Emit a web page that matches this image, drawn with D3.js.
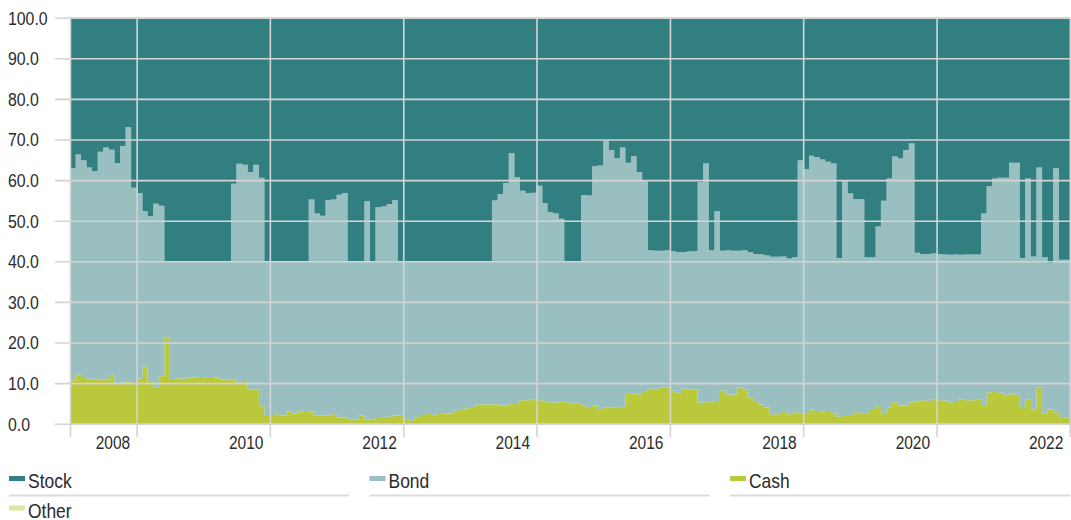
<!DOCTYPE html>
<html>
<head>
<meta charset="utf-8">
<script src="https://cdn.jsdelivr.net/npm/d3@7"></script>
<style>
    body { margin: 0; background: #fff; }
    svg { display: block; font-family: "Liberation Sans", Arial, sans-serif; }
</style>
</head>
<body>
<svg id="chart" width="1071" height="520"></svg>
<script>
// monthly allocation, Jan 2008 .. Dec 2022 (percent)
const stock = [
    37.0, 33.7, 35.1, 36.9, 37.8, 33.0, 32.0, 32.5, 35.8, 31.6, 27.0, 41.9,
    43.2, 47.6, 48.9, 45.8, 46.3, 60.0, 60.0, 60.0, 60.0, 60.0, 60.0, 60.0,
    60.0, 60.0, 60.0, 60.0, 60.0, 40.9, 36.0, 36.2, 38.0, 36.2, 39.4, 60.0,
    60.0, 60.0, 60.0, 60.0, 60.0, 60.0, 60.0, 44.8, 48.2, 48.8, 44.9, 44.8,
    43.6, 43.2, 60.0, 60.0, 60.0, 45.2, 60.0, 46.7, 46.5, 45.9, 44.9, 60.0,
    60.0, 60.0, 60.0, 60.0, 60.0, 60.0, 60.0, 60.0, 60.0, 60.0, 60.0, 60.0,
    60.0, 60.0, 60.0, 60.0, 45.0, 43.5, 40.7, 33.4, 39.3, 42.6, 43.2, 43.1,
    41.4, 45.7, 47.9, 48.2, 49.5, 60.0, 60.0, 60.0, 43.7, 43.8, 36.6, 36.4,
    30.3, 32.6, 34.6, 32.0, 35.7, 34.1, 38.0, 40.3, 57.3, 57.4, 57.4, 57.3,
    57.5, 57.8, 57.7, 57.6, 57.5, 40.5, 35.9, 57.3, 47.7, 57.4, 57.3, 57.4,
    57.4, 57.3, 57.8, 58.2, 58.3, 58.6, 58.9, 58.9, 58.8, 59.3, 59.0, 35.1,
    37.3, 34.0, 34.3, 34.9, 35.5, 35.9, 59.2, 40.3, 43.3, 44.7, 44.7, 59.0,
    59.0, 51.4, 45.1, 39.6, 34.2, 34.7, 32.6, 31.0, 57.9, 58.2, 58.2, 58.1,
    58.2, 58.3, 58.4, 58.3, 58.4, 58.3, 58.3, 58.3, 48.2, 41.5, 39.6, 39.4,
    39.4, 35.7, 35.7, 59.2, 39.6, 58.8, 36.9, 59.0, 60.4, 37.1, 59.6, 59.6
];
const bond = [
    52.3, 54.2, 53.4, 52.3, 51.1, 56.2, 57.2, 55.7, 54.2, 58.3, 62.6, 48.2,
    45.7, 38.3, 40.8, 45.2, 42.0, 18.8, 29.0, 28.8, 28.9, 28.7, 28.7, 28.5,
    28.7, 28.5, 28.6, 29.1, 29.2, 48.3, 53.9, 53.5, 53.6, 55.4, 56.3, 38.1,
    38.1, 37.7, 38.0, 37.0, 37.5, 37.0, 37.1, 52.2, 49.7, 49.1, 53.1, 52.9,
    54.9, 55.2, 39.0, 39.0, 38.0, 53.8, 39.0, 51.9, 51.9, 52.4, 53.1, 37.9,
    39.0, 39.3, 38.4, 38.1, 37.6, 37.9, 37.6, 37.5, 37.5, 36.8, 36.6, 36.2,
    35.9, 35.3, 35.2, 35.3, 50.2, 52.0, 54.8, 61.5, 55.6, 51.6, 51.0, 51.0,
    52.8, 48.9, 46.8, 46.6, 45.1, 34.7, 35.1, 35.1, 51.9, 52.1, 58.9, 60.2,
    65.8, 63.5, 61.5, 63.9, 56.9, 58.5, 54.8, 51.9, 34.0, 34.1, 33.7, 33.8,
    34.4, 34.6, 33.6, 34.0, 34.1, 54.3, 58.8, 37.2, 46.7, 34.4, 35.5, 35.4,
    33.7, 34.3, 35.7, 36.2, 37.0, 37.4, 38.8, 38.8, 38.1, 38.4, 38.2, 62.3,
    60.1, 62.5, 62.8, 62.1, 61.4, 61.6, 39.1, 57.8, 54.8, 52.5, 52.7, 38.4,
    37.4, 44.3, 52.2, 56.5, 60.5, 60.8, 63.0, 63.7, 36.6, 36.0, 36.4, 36.0,
    36.0, 36.0, 36.3, 36.1, 35.7, 35.9, 35.9, 35.8, 47.4, 50.8, 52.6, 53.0,
    53.5, 56.9, 57.2, 36.7, 54.5, 37.7, 54.2, 38.4, 36.1, 60.1, 38.8, 38.8
];
const cash = [
    10.7, 12.1, 11.5, 10.8, 11.1, 10.8, 10.8, 11.8, 10.0, 10.1, 10.4, 9.9,
    11.1, 14.1, 10.3, 9.0, 11.7, 21.2, 11.0, 11.2, 11.1, 11.3, 11.3, 11.5,
    11.3, 11.5, 11.4, 10.9, 10.8, 10.8, 10.1, 10.3, 8.4, 8.4, 4.3, 1.9,
    1.9, 2.3, 2.0, 3.0, 2.5, 3.0, 2.9, 3.0, 2.1, 2.1, 2.0, 2.3,
    1.5, 1.6, 1.0, 1.0, 2.0, 1.0, 1.0, 1.4, 1.6, 1.7, 2.0, 2.1,
    1.0, 0.7, 1.6, 1.9, 2.4, 2.1, 2.4, 2.5, 2.5, 3.2, 3.4, 3.8,
    4.1, 4.7, 4.8, 4.7, 4.8, 4.5, 4.5, 5.1, 5.1, 5.8, 5.8, 5.9,
    5.8, 5.4, 5.3, 5.2, 5.4, 5.3, 4.9, 4.9, 4.4, 4.1, 4.5, 3.4,
    3.9, 3.9, 3.9, 4.1, 7.4, 7.4, 7.2, 7.8, 8.7, 8.5, 8.9, 8.9,
    8.1, 7.6, 8.7, 8.4, 8.4, 5.2, 5.3, 5.5, 5.6, 8.2, 7.2, 7.2,
    8.9, 8.4, 6.5, 5.6, 4.7, 4.0, 2.3, 2.3, 3.1, 2.3, 2.8, 2.6,
    2.6, 3.5, 2.9, 3.0, 3.1, 2.5, 1.7, 1.9, 1.9, 2.8, 2.6, 2.6,
    3.6, 4.3, 2.7, 3.9, 5.3, 4.5, 4.4, 5.3, 5.5, 5.8, 5.4, 5.9,
    5.8, 5.7, 5.3, 5.6, 5.9, 5.8, 5.8, 5.9, 4.4, 7.7, 7.8, 7.6,
    7.1, 7.4, 7.1, 4.1, 5.9, 3.5, 8.9, 2.6, 3.5, 2.8, 1.6, 1.6
];

const yTicks = [0, 10, 20, 30, 40, 50, 60, 70, 80, 90, 100];
const xTickYears = [2008, 2010, 2012, 2014, 2016, 2018, 2020, 2022];
const legendItems = ['Stock', 'Bond', 'Cash', 'Other'];

const COLORS = {
    Stock: '#327f82',
    Bond: '#9abfc0',
    Cash: '#b9c93b',
    Other: '#dbe7a2'
};
const gridColor = '#d4d4d4';
const textColor = '#2b2b2b';

const PLOT = { left: 70, right: 1070, top: 17.7, bottom: 423.7 };

const svg = d3.select('#chart');

// squeeze text horizontally to get the condensed look of the original
function condense(sel, k) {
    sel.each(function () {
        const w = this.getComputedTextLength();
        d3.select(this)
            .attr('textLength', w * k)
            .attr('lengthAdjust', 'spacingAndGlyphs');
    });
}

const months = d3.timeMonth.range(new Date(2008, 0, 1), new Date(2023, 0, 1));
const rows = months.map((d, i) => ({ date: d, Cash: cash[i], Bond: bond[i], Stock: stock[i] }));
// closing row so the last step gets its full width
rows.push({ ...rows[rows.length - 1], date: new Date(2023, 0, 1) });

const x = d3.scaleTime()
    .domain([new Date(2008, 0, 1), new Date(2023, 0, 1)])
    .range([PLOT.left, PLOT.right]);

const y = d3.scaleLinear()
    .domain([0, 100])
    .range([PLOT.bottom, PLOT.top]);

const series = d3.stack().keys(['Cash', 'Bond', 'Stock'])(rows);

const area = d3.area()
    .x(d => x(d.data.date))
    .y0(d => y(d[0]))
    .y1(d => y(d[1]))
    .curve(d3.curveStepAfter);

svg.append('g')
    .selectAll('path')
    .data(series)
    .join('path')
    .attr('fill', d => COLORS[d.key])
    .attr('d', area);

// horizontal grid + y labels
const yAxis = svg.append('g')
    .attr('transform', 'translate(55,0)')
    .call(d3.axisLeft(y)
        .tickValues(yTicks)
        .tickSize(-(PLOT.right - 55))
        .tickFormat(d3.format('.1f')));
yAxis.select('.domain').remove();
yAxis.selectAll('.tick line')
    .attr('stroke', gridColor)
    .attr('stroke-width', 1.6);
yAxis.selectAll('.tick text')
    .attr('x', 8 - 55)
    .attr('dy', '0.36em')
    .attr('text-anchor', 'start')
    .style('fill', textColor)
    .style('font-size', '18px')
    .call(condense, 0.88);

// vertical grid + year labels (labels sit left of their tick)
const AXIS_Y = 437;
const xTickDates = [new Date(2008, 0, 1)].concat(xTickYears.map(yr => new Date(yr, 11, 31)));
const xAxis = svg.append('g')
    .attr('transform', `translate(0,${AXIS_Y})`)
    .call(d3.axisBottom(x)
        .tickValues(xTickDates)
        .tickSize(-(AXIS_Y - PLOT.top))
        .tickFormat(d => d.getMonth() === 11 ? d3.timeFormat('%Y')(d) : ''));
xAxis.select('.domain').remove();
xAxis.selectAll('.tick line')
    .attr('stroke', gridColor)
    .attr('stroke-width', 1.6);
xAxis.selectAll('.tick text')
    .attr('x', -7)
    .attr('y', 11.5)
    .attr('dy', 0)
    .attr('text-anchor', 'end')
    .style('fill', textColor)
    .style('font-size', '18px')
    .call(condense, 0.86);

// legend
const legend = svg.append('g');
const legendRow = legend.selectAll('g')
    .data(legendItems)
    .join('g')
    .attr('transform', (d, i) => `translate(${9 + (i % 3) * 360.5},${488 + Math.floor(i / 3) * 29.5})`);

legendRow.append('rect')
    .attr('x', 0)
    .attr('y', -12)
    .attr('width', 16)
    .attr('height', 5)
    .attr('fill', d => COLORS[d]);

legendRow.append('text')
    .attr('x', 19)
    .attr('y', 0)
    .style('fill', textColor)
    .style('font-size', '21px')
    .text(d => d)
    .call(condense, 0.83);

legendRow.append('line')
    .attr('x1', 0)
    .attr('x2', 340)
    .attr('y1', 7.5)
    .attr('y2', 7.5)
    .attr('stroke', '#dcdcdc')
    .attr('stroke-width', 2);
</script>
</body>
</html>
